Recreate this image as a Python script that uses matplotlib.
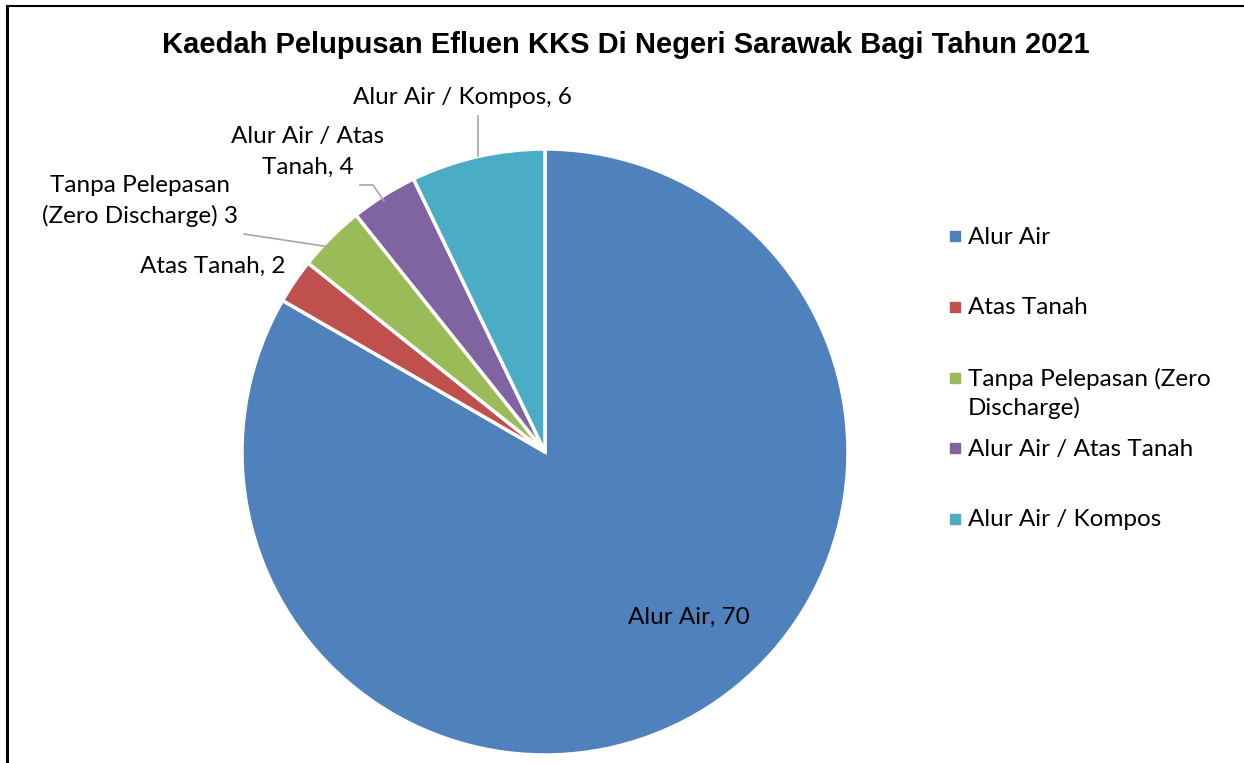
import matplotlib.pyplot as plt
from matplotlib.lines import Line2D

categories = ["Alur Air", "Atas Tanah", "Tanpa Pelepasan (Zero Discharge)",
              "Alur Air / Atas Tanah", "Alur Air / Kompos"]
# slice sizes as drawn in the picture (the purple slice is drawn as big as the green one)
values = [70, 2, 3, 3, 6]
legend_labels = ["Alur Air", "Atas Tanah", "Tanpa Pelepasan (Zero\nDischarge)",
                 "Alur Air / Atas Tanah", "Alur Air / Kompos"]
# data label texts exactly as printed on the chart
data_labels = ["Alur Air, 70", "Atas Tanah, 2", "Tanpa Pelepasan\n(Zero Discharge) 3",
               "Alur Air / Atas\nTanah, 4", "Alur Air / Kompos, 6"]
colors = ["#4F81BD", "#C0504D", "#9BBB59", "#8064A2", "#4BACC6"]

W, H = 1244, 763
fig = plt.figure(figsize=(W / 100, H / 100), dpi=100)

# pie centre (545, 452) px, radius 303 px
cx, cy, r = 545, 452, 303
ax = fig.add_axes([(cx - r) / W, (H - cy - r) / H, 2 * r / W, 2 * r / H])
wedges, _ = ax.pie(values, colors=colors, startangle=90, counterclock=False,
                   radius=1, wedgeprops=dict(edgecolor="white", linewidth=2.5))
ax.set_xlim(-1, 1)
ax.set_ylim(-1, 1)
ax.set_aspect("equal")
ax.axis("off")


def px(x, y):
    return ((x - cx) / r, (cy - y) / r)


lab_font = dict(family=["Lato", "DejaVu Sans"], fontsize=17.5, color="black")
line_kw = dict(color="#A6A6A6", linewidth=1.2)

# Alur Air, 70 (inside)
ax.text(*px(689, 617), data_labels[0], ha="center", va="center", **lab_font)
# Atas Tanah, 2
ax.text(*px(213, 266), data_labels[1], ha="center", va="center", **lab_font)
# Tanpa Pelepasan
ax.text(*px(140, 201), data_labels[2], ha="center", va="center",
        multialignment="center", linespacing=1.47, **lab_font)
ax.plot(*zip(px(244, 234), px(330, 247)), **line_kw, clip_on=False)
# Alur Air / Atas Tanah
ax.text(*px(308, 152), data_labels[3], ha="center", va="center",
        multialignment="center", linespacing=1.6, **lab_font)
ax.plot(*zip(px(360, 185), px(373, 185), px(384, 201)), **line_kw, clip_on=False)
# Alur Air / Kompos
ax.text(*px(462, 98), data_labels[4], ha="center", va="center", **lab_font)
ax.plot(*zip(px(478, 116), px(478, 156)), **line_kw, clip_on=False)

# legend, Excel style: fixed row pitch, wrapped entry runs into the next gap
for i, (lab, c) in enumerate(zip(legend_labels, colors)):
    yc = 236 + 70.75 * i
    fig.add_artist(Line2D([955 / W], [1 - yc / H], marker="s", markersize=7.2,
                          color=c, linestyle="none", transform=fig.transFigure))
    fig.text(968 / W, 1 - (yc - 9.5) / H, lab, ha="left", va="top",
             linespacing=1.35, **lab_font)

fig.text(626 / W, 1 - 45 / H,
         "Kaedah Pelupusan Efluen KKS Di Negeri Sarawak Bagi Tahun 2021",
         ha="center", va="center", fontsize=21, fontweight="bold",
         family=["Liberation Sans", "DejaVu Sans"])

# chart frame (top and left edges visible)
fig.add_artist(Line2D([7 / W, 1], [1 - 6 / H, 1 - 6 / H], color="black",
                      linewidth=1.5, transform=fig.transFigure))
fig.add_artist(Line2D([7 / W, 7 / W], [0, 1 - 6 / H], color="black",
                      linewidth=2.2, transform=fig.transFigure))

fig.savefig("out.png", dpi=100)
